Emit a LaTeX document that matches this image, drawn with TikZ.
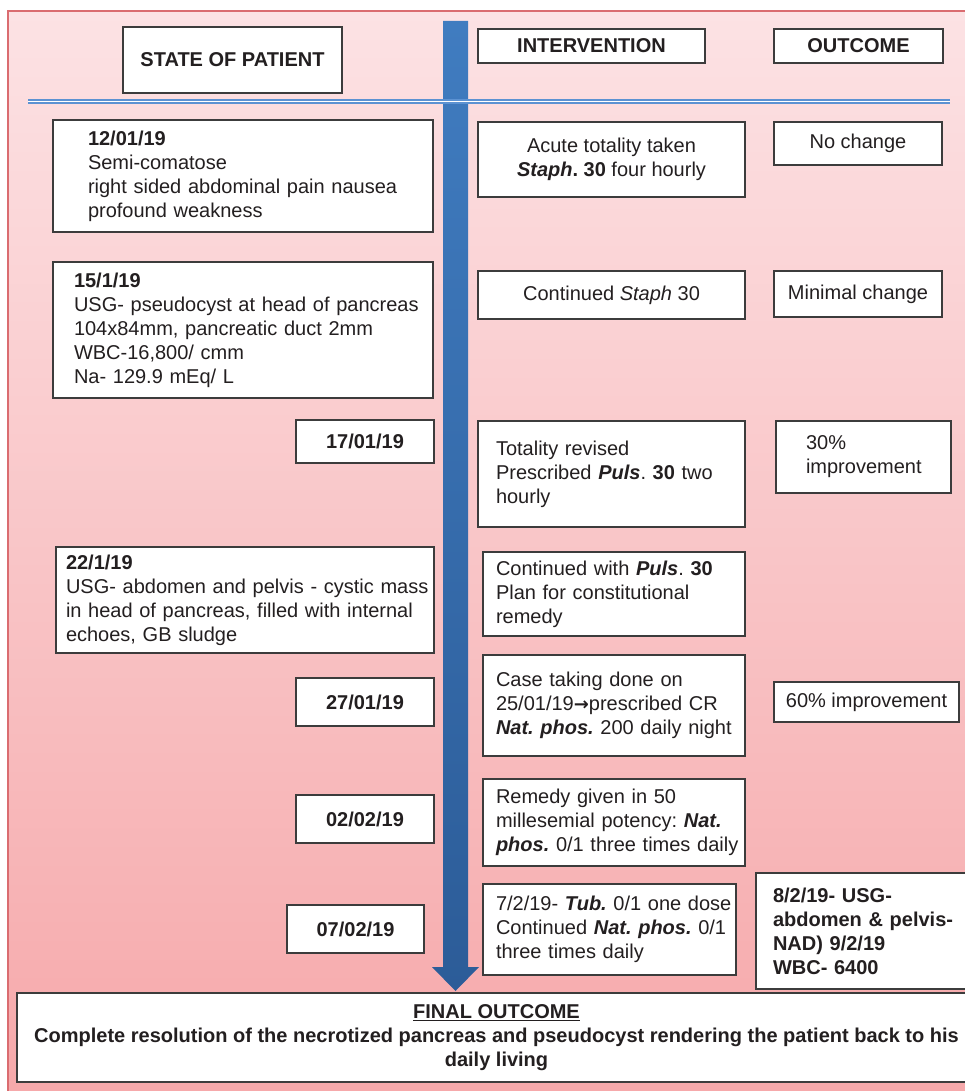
\documentclass[tikz,border=0pt]{standalone}
\usepackage{fontspec}
\setmainfont{Liberation Sans}
\newfontfamily\dejavu{DejaVu Sans}
\frenchspacing
\definecolor{bgtop}{RGB}{252,226,228}
\definecolor{bgbot}{RGB}{246,168,170}
\definecolor{framered}{RGB}{218,108,112}
\definecolor{arrtop}{RGB}{64,124,192}
\definecolor{arrbot}{RGB}{44,92,152}
\definecolor{dline}{RGB}{92,146,210}
\definecolor{boxline}{RGB}{60,60,60}
\definecolor{txt}{RGB}{35,31,32}
\newcommand\lline[1]{\makebox[0pt][l]{#1}}
\newcommand\bi[1]{\textbf{\textit{#1}}}
\newcommand\rarr{{\dejavu\bfseries\fontsize{18}{24}\selectfont →}}
\begin{document}
\begin{tikzpicture}[x=1pt,y=-1pt,
  box/.style={draw=boxline, fill=white, line width=1.2pt, inner sep=0pt,
    text=txt, font=\fontsize{20}{24}\selectfont},
  cbox/.style={box, align=center},
  lbox/.style={box, align=left},
  hbox/.style={cbox, font=\fontsize{20}{24}\selectfont\bfseries},
  sz/.style 2 args={minimum width=#1, minimum height=#2}]
\useasboundingbox (0,0) rectangle (964,1091);
% background
\shade[top color=bgtop, bottom color=bgbot] (8,11) rectangle (980,1100);
\draw[framered, line width=1.5pt] (8,1100) -- (8,11) -- (980,11);
% timeline arrow
\coordinate (atop) at (455.5,21);
\coordinate (atip) at (455.5,991);
\shade[top color=arrtop, bottom color=arrbot]
  (443,21) -- (468,21) -- (468,967) -- (479,967) -- (atip) -- (432,967) -- (443,967) -- cycle;
% double separator line
\coordinate (sepl) at (28,101.5);
\coordinate (sepr) at (950,101.5);
\draw[draw=dline, line width=1.4pt, double=white, double distance=1.6pt] (sepl) -- (sepr);
% headers
\node[hbox, sz={219}{66}] (hstate) at (232.5,60) {STATE OF PATIENT};
\node[hbox, sz={227}{34}] (hint) at (591.5,46) {INTERVENTION};
\node[hbox, sz={169}{34}] (hout) at (858.5,46) {OUTCOME};
% state of patient
\node[lbox, sz={380}{112}, text width=310] (s1) at (243,176)
 {\lline{\textbf{12/01/19}}\\\lline{Semi-comatose}\\\lline{right sided abdominal pain nausea}\\\lline{profound weakness}};
\node[lbox, sz={380}{136}, text width=338] (s2) at (243,330)
 {\lline{\textbf{15/1/19}}\\\lline{USG- pseudocyst at head of pancreas}\\\lline{104x84mm, pancreatic duct 2mm}\\\lline{WBC-16,800/ cmm}\\\lline{Na- 129.9 mEq/ L}};
\node[hbox, sz={138}{43}] (d17) at (365,441.5) {17/01/19};
\node[lbox, sz={378}{106}, text width=358] (s3) at (245,600)
 {\lline{\textbf{22/1/19}}\\\lline{USG- abdomen and pelvis - cystic mass}\\\lline{in head of pancreas, filled with internal}\\\lline{echoes, GB sludge}};
\node[hbox, sz={138}{48}] (d27) at (365,702) {27/01/19};
\node[hbox, sz={138}{48}] (d02) at (365,819) {02/02/19};
\node[hbox, sz={137}{48}] (d07) at (355.5,929) {07/02/19};
% interventions
\node[cbox, sz={267}{75}] (i1) at (611.5,159.5)
 {Acute totality taken\\\textbf{\textit{Staph}. 30} four hourly};
\node[cbox, sz={267}{48}] (i2) at (611.5,295) {Continued \textit{Staph} 30};
\node[lbox, sz={267}{106}, text width=231] (i3) at (611.5,474)
 {\lline{Totality revised}\\\lline{Prescribed \bi{Puls}. \textbf{30} two}\\\lline{hourly}};
\node[lbox, sz={262}{84}, text width=236] (i4) at (614,594)
 {\lline{Continued with \bi{Puls}. \textbf{30}}\\\lline{Plan for constitutional}\\\lline{remedy}};
\node[lbox, sz={262}{101}, text width=236] (i5) at (614,705.5)
 {\lline{Case taking done on}\\\lline{25/01/19\rarr prescribed CR}\\\lline{\bi{Nat. phos.} 200 daily night}};
\node[lbox, sz={262}{87}, text width=236] (i6) at (614,822.5)
 {\lline{Remedy given in 50}\\\lline{millesemial potency: \bi{Nat.}}\\\lline{\bi{phos.} 0/1 three times daily}};
\node[lbox, sz={253}{91}, text width=227] (i7) at (609.5,929.5)
 {\lline{7/2/19- \bi{Tub.} 0/1 one dose}\\\lline{Continued \bi{Nat. phos.} 0/1}\\\lline{three times daily}};
% outcomes
\node[cbox, sz={168}{43}] (o1) at (858,143.5) {No change};
\node[cbox, sz={168}{46}] (o2) at (858,294) {Minimal change};
\node[lbox, sz={175}{72}, text width=115] (o3) at (863.5,457)
 {\lline{30\%}\\\lline{improvement}};
\node[cbox, sz={185}{40}] (o5) at (866.5,702) {60\% improvement};
\node[lbox, sz={220}{116}, text width=186, font=\fontsize{20}{24}\selectfont\bfseries] (o7) at (866,931)
 {\lline{8/2/19- USG-}\\\lline{abdomen \& pelvis-}\\\lline{NAD) 9/2/19}\\\lline{WBC- 6400}};
% final outcome
\node[hbox, sz={959}{89}] (final) at (496.5,1037.5)
 {\underline{FINAL OUTCOME}\\Complete resolution of the necrotized pancreas and pseudocyst rendering the patient back to his\\daily living};
\end{tikzpicture}
\end{document}
